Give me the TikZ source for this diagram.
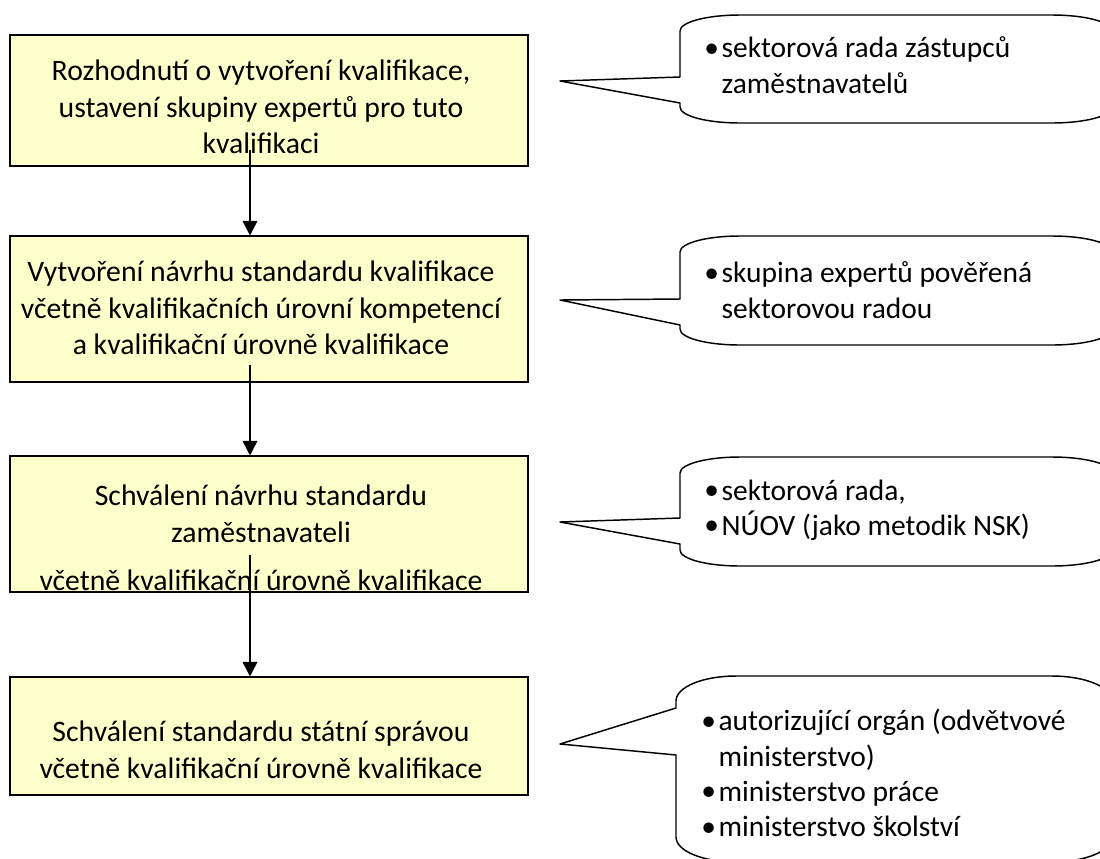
\documentclass[tikz,border=0pt]{standalone}
\usepackage{fontspec}
\setmainfont{Carlito}
\usepackage{tikz}
\usetikzlibrary{arrows.meta}
\usetikzlibrary{positioning}

\definecolor{krokfill}{RGB}{255,255,204}
\newcommand{\tecka}{\makebox[13pt][l]{\raisebox{0.5pt}{•}}}
\newcommand{\odsaz}{\hspace*{13pt}}

\begin{document}
\begin{tikzpicture}[x=0.75pt, y=-0.75pt,
		krok/.style={draw, fill=krokfill, line width=0.8pt, minimum width=388.5pt, inner sep=0pt},
		popis/.style={align=center, font=\fontsize{22.3}{27.4}\selectfont, inner sep=0pt},
		vyzva/.style={align=left, font=\fontsize{22.1}{26.5}\selectfont, inner sep=0pt, anchor=west},
		bublina/.style={draw, line width=1.1pt, fill=white, line join=round},
		sipka/.style={draw, line width=1.2pt, -{Triangle[width=11pt, length=11pt]}}]
		\clip (0, 0) rectangle (1100, 858);

		\node[krok, minimum height=98.25pt] (k1) at (269, 100.5) {};
		\node[krok, minimum height=109.5pt] (k2) at (269, 309) {};
		\node[krok, minimum height=102pt] (k3) at (269, 524) {};
		\node[krok, minimum height=88.5pt] (k4) at (269, 736) {};

		\node[popis] (t1) at (261, 107) {Rozhodnutí o vytvoření kvalifikace,\\ustavení skupiny expertů pro tuto\\kvalifikaci};
		\node[popis] (t2) at (261, 308) {Vytvoření návrhu standardu kvalifikace\\včetně kvalifikačních úrovní kompetencí\\a kvalifikační úrovně kvalifikace};
		\node[popis] (t3) at (261, 538) {Schválení návrhu standardu\\zaměstnavateli\\[9pt]včetně kvalifikační úrovně kvalifikace};
		\node[popis] (t4) at (261, 750) {Schválení standardu státní správou\\včetně kvalifikační úrovně kvalifikace};

		\coordinate (s1) at (250, 150);
		\coordinate (s2) at (250, 365);
		\coordinate (s3) at (250, 555);
		\path[sipka] (s1) -- (s1 |- k2.north);
		\path[sipka] (s2) -- (s2 |- k3.north);
		\path[sipka] (s3) -- (s3 |- k4.north);

		% bubliny
		\path[bublina] (680, 77) -- (680, 31) .. controls (680, 22) and (707, 15) .. (740, 15) -- (1052, 15)
			.. controls (1085, 15) and (1112, 22) .. (1112, 31) -- (1112, 107)
			.. controls (1112, 116) and (1085, 123) .. (1052, 123) -- (740, 123)
			.. controls (707, 123) and (680, 116) .. (680, 107) -- (680, 103) -- (560, 81) -- cycle;
		\path[bublina] (680, 299) -- (680, 252) .. controls (680, 243) and (707, 236) .. (740, 236) -- (1052, 236)
			.. controls (1085, 236) and (1112, 243) .. (1112, 252) -- (1112, 329)
			.. controls (1112, 338) and (1085, 345) .. (1052, 345) -- (740, 345)
			.. controls (707, 345) and (680, 338) .. (680, 329) -- (680, 325) -- (560, 300) -- cycle;
		\path[bublina] (680, 518) -- (680, 473) .. controls (680, 464) and (707, 457) .. (740, 457) -- (1052, 457)
			.. controls (1085, 457) and (1112, 464) .. (1112, 473) -- (1112, 550)
			.. controls (1112, 559) and (1085, 566) .. (1052, 566) -- (740, 566)
			.. controls (707, 566) and (680, 559) .. (680, 550) -- (680, 544) -- (560, 522) -- cycle;
		\path[bublina] (676, 708) -- (676, 701) .. controls (676, 687) and (703, 676) .. (736, 676) -- (1052, 676)
			.. controls (1085, 676) and (1112, 687) .. (1112, 701) -- (1112, 837)
			.. controls (1112, 851) and (1085, 862) .. (1052, 862) -- (736, 862)
			.. controls (703, 862) and (676, 851) .. (676, 837) -- (676, 755) -- (560, 744) -- cycle;

		\node[vyzva] (v1) at (704, 65) {\tecka sektorová rada zástupců\\\odsaz zaměstnavatelů};
		\node[vyzva] (v2) at (704, 290) {\tecka skupina expertů pověřená\\\odsaz sektorovou radou};
		\node[vyzva] (v3) at (704, 510) {\tecka sektorová rada,\\\tecka NÚOV (jako metodik NSK)};
		\node[vyzva] (v4) at (701, 773) {\tecka autorizující orgán (odvětvové\\\odsaz ministerstvo)\\\tecka ministerstvo práce\\\tecka ministerstvo školství};
\end{tikzpicture}
\end{document}
